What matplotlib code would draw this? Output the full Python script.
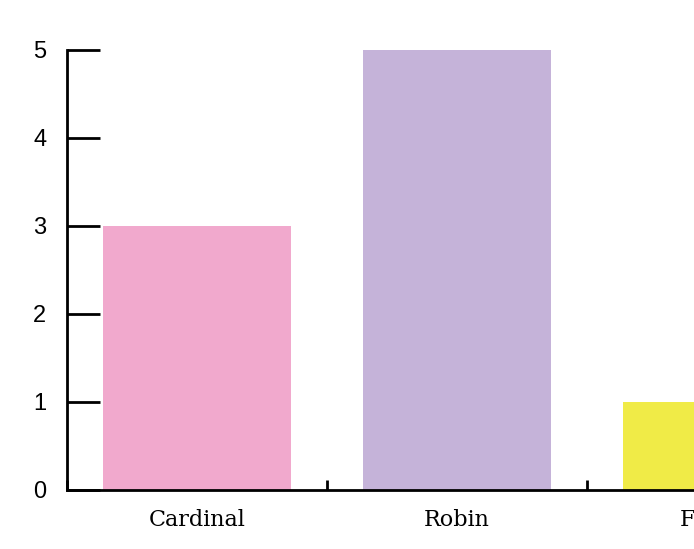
import matplotlib
matplotlib.use('Agg')
import matplotlib.pyplot as plt

birds = ['Cardinal', 'Robin', 'Falcon']
counts = [3, 5, 1]
colors = ['#F1A9CD', '#C5B3D9', '#F0EB47']

W, H = 694, 549
fig = plt.figure(figsize=(W / 100, H / 100), dpi=100)
# axes runs off the right edge, like the original
ax = fig.add_axes([67 / W, (H - 490) / H, 780 / W, 440 / H])

x = list(range(len(birds)))
ax.bar(x, counts, width=0.72, color=colors)

ax.set_xlim(-0.5, len(birds) - 0.5)
ax.set_ylim(0, 5)

for s in ['top', 'right']:
    ax.spines[s].set_visible(False)
for s in ['left', 'bottom']:
    ax.spines[s].set_linewidth(2)
    ax.spines[s].set_color('black')

# band edges get the small ticks, bar centres get the labels
ax.set_xticks([i - 0.5 for i in range(len(birds) + 1)])
ax.set_xticklabels([])
ax.set_xticks(x, minor=True)
ax.set_xticklabels(birds, minor=True, family='DejaVu Serif', fontsize=16)
ax.tick_params(axis='x', which='major', direction='in', length=7, width=2)
ax.tick_params(axis='x', which='minor', length=0, pad=14)

ax.set_yticks(range(6))
ax.tick_params(axis='y', direction='in', length=24, width=2, pad=15,
               labelsize=17)
for lab in ax.get_yticklabels():
    lab.set_family('Liberation Sans')

fig.savefig('out.png', dpi=100)
